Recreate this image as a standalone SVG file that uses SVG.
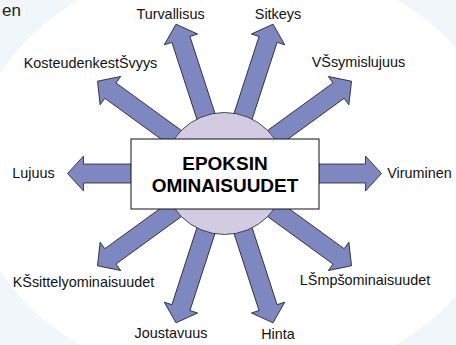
<svg xmlns="http://www.w3.org/2000/svg" xmlns:xlink="http://www.w3.org/1999/xlink" width="456" height="345" viewBox="0 0 456 345">
<style>
.lbl{font-family:"Liberation Sans",Arial,sans-serif;font-size:14.4px;fill:#111;text-anchor:middle}
.title{font-family:"Liberation Sans",Arial,sans-serif;font-size:19px;font-weight:bold;fill:#000;text-anchor:middle}
.arr{fill:#7e87bf;stroke:#222;stroke-width:0.8;stroke-linejoin:miter}
</style>
<defs>
<polygon id="arrow" class="arr" points="0,-9.5 141,-9.5 141,-17.5 157,0 141,17.5 141,9.5 0,9.5"/>
</defs>
<rect x="0" y="0" width="456" height="345" fill="#f1f6fb"/>
<ellipse cx="238" cy="172" rx="268" ry="214" fill="#ffffff"/>
<text x="2" y="16" font-family="Liberation Sans, Arial, sans-serif" font-size="17" fill="#222">en</text>
<g id="connectors">
<use xlink:href="#arrow" transform="translate(224.5,173.5) rotate(0)"/>
<use xlink:href="#arrow" transform="translate(224.5,173.5) rotate(-36)"/>
<use xlink:href="#arrow" transform="translate(224.5,173.5) rotate(-72)"/>
<use xlink:href="#arrow" transform="translate(224.5,173.5) rotate(-108)"/>
<use xlink:href="#arrow" transform="translate(224.5,173.5) rotate(-144)"/>
<use xlink:href="#arrow" transform="translate(224.5,173.5) rotate(180)"/>
<use xlink:href="#arrow" transform="translate(224.5,173.5) rotate(144)"/>
<use xlink:href="#arrow" transform="translate(224.5,173.5) rotate(108)"/>
<use xlink:href="#arrow" transform="translate(224.5,173.5) rotate(72)"/>
<use xlink:href="#arrow" transform="translate(224.5,173.5) rotate(36)"/>
</g>
<g id="center">
<circle cx="224.5" cy="173.5" r="61" fill="#d2cbe2" stroke="#222" stroke-width="0.8"/>
<rect x="131" y="139" width="188" height="70" fill="#ffffff" stroke="#111" stroke-width="1"/>
<text class="title" x="225" y="170">EPOKSIN</text>
<text class="title" x="225" y="192">OMINAISUUDET</text>
</g>
<g id="n-turvallisus"><text class="lbl" x="170.5" y="19">Turvallisus</text></g>
<g id="n-sitkeys"><text class="lbl" x="278" y="19">Sitkeys</text></g>
<g id="n-kosteudenkestavyys"><text class="lbl" x="90.5" y="68">KosteudenkestŠvyys</text></g>
<g id="n-vasymislujuus"><text class="lbl" x="358.5" y="67">VŠsymislujuus</text></g>
<g id="n-lujuus"><text class="lbl" x="33.5" y="178">Lujuus</text></g>
<g id="n-viruminen"><text class="lbl" x="419.5" y="178">Viruminen</text></g>
<g id="n-kasittely"><text class="lbl" x="83.5" y="287">KŠsittelyominaisuudet</text></g>
<g id="n-lampo"><text class="lbl" x="365" y="285">LŠmpšominaisuudet</text></g>
<g id="n-joustavuus"><text class="lbl" x="171" y="338">Joustavuus</text></g>
<g id="n-hinta"><text class="lbl" x="278" y="339">Hinta</text></g>
</svg>
